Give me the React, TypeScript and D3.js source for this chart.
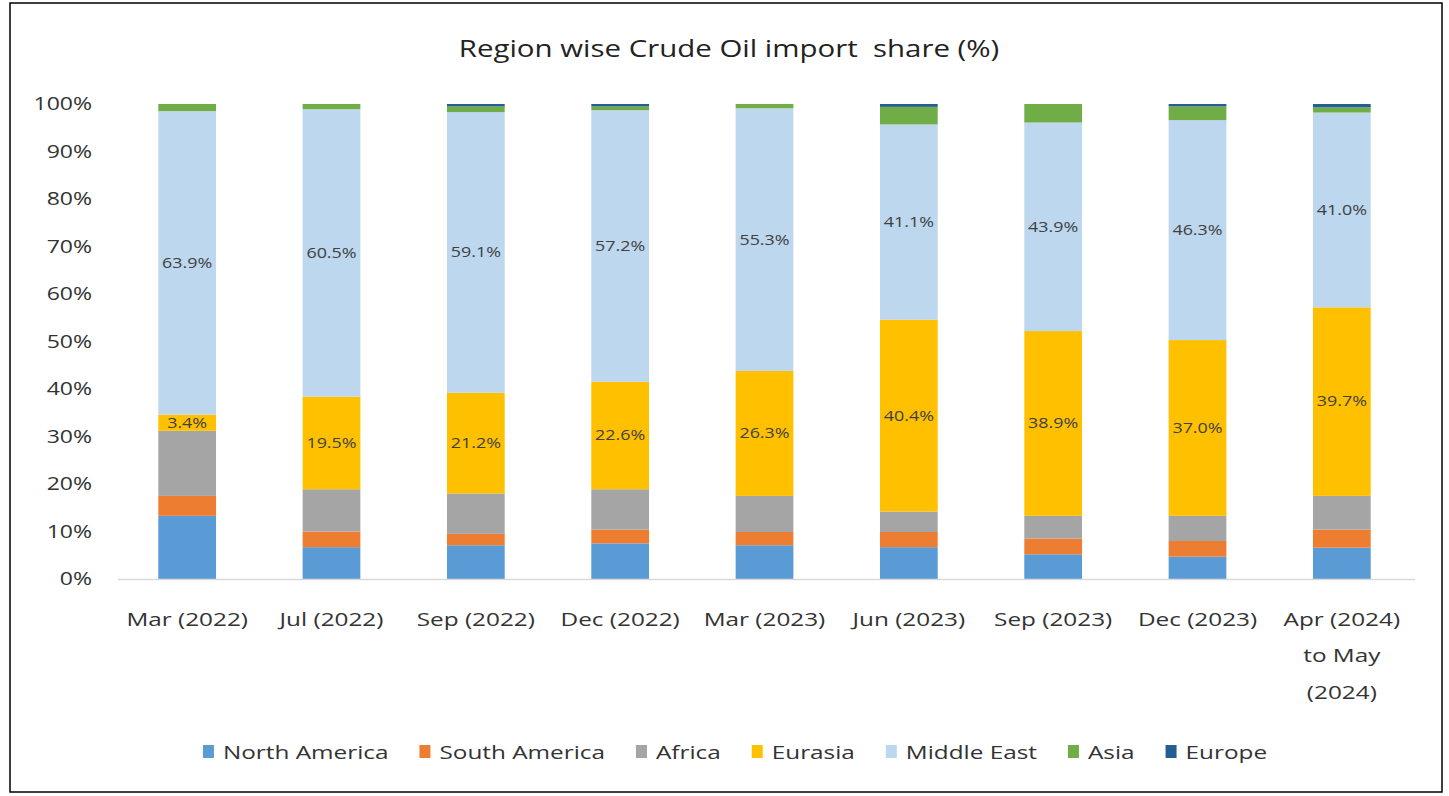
import { useEffect, useRef } from 'react';
import * as d3 from 'd3';

const categories = [
  'Mar (2022)', 'Jul (2022)', 'Sep (2022)', 'Dec (2022)', 'Mar (2023)',
  'Jun (2023)', 'Sep (2023)', 'Dec (2023)', 'Apr (2024)\nto May\n(2024)',
];

const northAmerica = [13.3, 6.7, 7.1, 7.5, 7.1, 6.7, 5.2, 4.7, 6.6];
const southAmerica = [4.2, 3.3, 2.4, 2.9, 2.8, 3.2, 3.3, 3.3, 3.8];
const africa = [13.7, 8.9, 8.5, 8.5, 7.6, 4.3, 4.8, 5.3, 7.1];
const eurasia = [3.4, 19.5, 21.2, 22.6, 26.3, 40.4, 38.9, 37.0, 39.7];
const middleEast = [63.9, 60.5, 59.1, 57.2, 55.3, 41.1, 43.9, 46.3, 41.0];
const asia = [1.5, 1.1, 1.2, 0.8, 0.9, 3.7, 3.9, 2.9, 1.1];
const europe = [0, 0, 0.5, 0.5, 0, 0.6, 0, 0.5, 0.7];

const yTicks = [0, 10, 20, 30, 40, 50, 60, 70, 80, 90, 100];

const series = [
  { name: 'North America', values: northAmerica, color: '#5B9BD5', label: false },
  { name: 'South America', values: southAmerica, color: '#ED7D31', label: false },
  { name: 'Africa', values: africa, color: '#A5A5A5', label: false },
  { name: 'Eurasia', values: eurasia, color: '#FFC000', label: true },
  { name: 'Middle East', values: middleEast, color: '#BDD7EE', label: true },
  { name: 'Asia', values: asia, color: '#70AD47', label: false },
  { name: 'Europe', values: europe, color: '#255E91', label: false },
];

const W = 1449;
const H = 796;
const FONT = '"Open Sans", "Noto Sans", sans-serif';
// the source picture is stretched sideways, so text gets a horizontal scale
const SX = 1.28;

export default function App() {
  const svgRef = useRef<SVGSVGElement>(null);

  useEffect(() => {
    const svg = d3.select(svgRef.current);
    svg.selectAll('*').remove();

    const addText = (parent: any, x: number, y: number, str: string, size: number,
      anchor = 'middle', fill = '#333') => {
      const t = parent.append('g')
        .attr('transform', `translate(${x},${y}) scale(${SX},1)`)
        .append('text')
        .attr('text-anchor', anchor)
        .style('font-family', FONT)
        .style('font-size', `${size}px`)
        .style('fill', fill);
      const lines = str.split('\n');
      lines.forEach((line, i) => {
        t.append('tspan').attr('x', 0).attr('dy', i === 0 ? '0.35em' : 36.5).text(line);
      });
      return t;
    };

    const table = categories.map((c, i) => {
      const row: Record<string, any> = { category: c };
      series.forEach(s => { row[s.name] = s.values[i]; });
      return row;
    });

    const stacked = d3.stack<any>().keys(series.map(s => s.name))(table);

    const x = d3.scaleBand()
      .domain(categories)
      .range([115, 1414])
      .paddingInner(0.6)
      .paddingOuter(0.3);

    const y = d3.scaleLinear().domain([0, 100]).range([579, 104]);

    // Outer frame
    svg.append('rect')
      .attr('x', 10).attr('y', 3)
      .attr('width', 1432).attr('height', 789)
      .attr('fill', '#fff')
      .attr('stroke', '#000')
      .attr('stroke-width', 1.5);

    // Title
    addText(svg, 729, 49, 'Region wise Crude Oil import  share (%)', 23, 'middle', '#222')
      .style('white-space', 'pre');

    // Y axis labels
    const ya = svg.append('g');
    yTicks.forEach(d => addText(ya, 92, y(d), `${d}%`, 18, 'end'));

    // Bars
    const g = svg.append('g');
    stacked.forEach((layer, li) => {
      g.selectAll(`.bar-${li}`)
        .data(layer)
        .enter().append('rect')
        .attr('x', d => x(d.data.category)!)
        .attr('width', x.bandwidth())
        .attr('y', d => y(d[1]))
        .attr('height', d => Math.max(0, y(d[0]) - y(d[1])))
        .attr('fill', series[li].color);
    });

    // Value labels
    stacked.forEach((layer, li) => {
      if (!series[li].label) return;
      layer.forEach(d => {
        addText(g, x(d.data.category)! + x.bandwidth() / 2, y((d[0] + d[1]) / 2),
          `${(d[1] - d[0]).toFixed(1)}%`, 14, 'middle', '#404040');
      });
    });

    // X axis line
    svg.append('line')
      .attr('x1', 118).attr('x2', 1415)
      .attr('y1', 579.5).attr('y2', 579.5)
      .attr('stroke', '#D9D9D9')
      .attr('stroke-width', 1.5);

    // X labels
    const xa = svg.append('g');
    categories.forEach(c => addText(xa, x(c)! + x.bandwidth() / 2, 619, c, 19));

    // Legend
    const legend = svg.append('g');
    let cx = 0;
    series.forEach(s => {
      const item = legend.append('g').attr('transform', `translate(${cx},0)`);
      item.append('rect')
        .attr('x', 0).attr('y', -7)
        .attr('width', 11).attr('height', 13)
        .attr('fill', s.color);
      const t = addText(item, 20, 0, s.name, 19, 'start');
      const tw = (t.node() as SVGTextElement).getComputedTextLength() * SX;
      cx += 20 + tw + 31;
    });
    const total = cx - 31;
    legend.attr('transform', `translate(${735 - total / 2},752)`);
  }, []);

  return (
    <svg
      ref={svgRef}
      width={W}
      height={H}
      style={{ position: 'absolute', left: 0, top: 0, background: '#fff' }}
    />
  );
}
